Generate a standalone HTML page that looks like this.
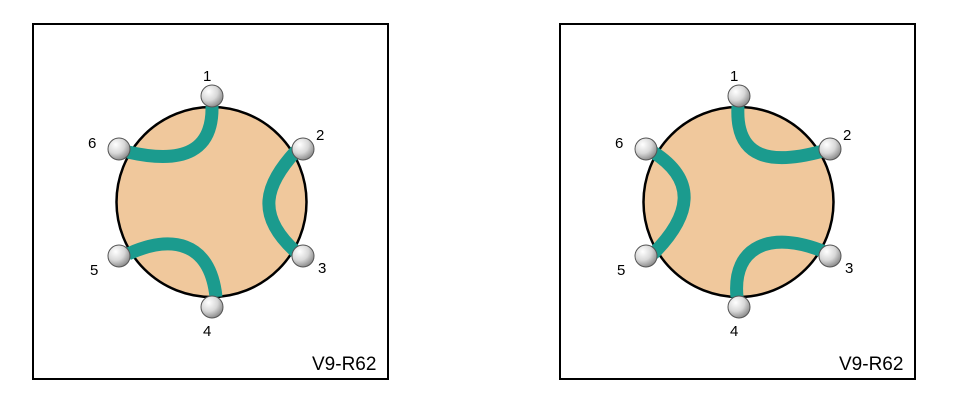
<!DOCTYPE html>
<html><head><style>
body{margin:0;background:#fff;}
svg{display:block;}
text{font-family:"Liberation Sans",sans-serif;font-size:15px;fill:#000;}
</style></head><body>
<svg width="965" height="409" viewBox="0 0 965 409">
<defs>
<radialGradient id="g" cx="0.35" cy="0.3" r="0.8">
<stop offset="0" stop-color="#ffffff"/><stop offset="0.5" stop-color="#d8d8d8"/><stop offset="1" stop-color="#7a7a7a"/>
</radialGradient>
<g id="base">
<circle cx="211.5" cy="202" r="95" fill="#f0c89c" stroke="#000" stroke-width="2.5"/>
</g>
<g id="ports">
<circle cx="212" cy="96" r="11" fill="url(#g)" stroke="#555" stroke-width="1"/>
<circle cx="303" cy="149" r="11" fill="url(#g)" stroke="#555" stroke-width="1"/>
<circle cx="303" cy="256" r="11" fill="url(#g)" stroke="#555" stroke-width="1"/>
<circle cx="212" cy="307" r="11" fill="url(#g)" stroke="#555" stroke-width="1"/>
<circle cx="119" cy="256" r="11" fill="url(#g)" stroke="#555" stroke-width="1"/>
<circle cx="119" cy="149" r="11" fill="url(#g)" stroke="#555" stroke-width="1"/>
<text x="203" y="81">1</text>
<text x="316" y="140">2</text>
<text x="318" y="273">3</text>
<text x="203" y="336">4</text>
<text x="90" y="275">5</text>
<text x="88" y="148">6</text>
</g>
</defs>

<rect x="33" y="24" width="355" height="355" fill="#fff" stroke="#000" stroke-width="2"/>
<use href="#base"/>
<g fill="none" stroke="#1b9b8e" stroke-width="13" stroke-linecap="butt">
<path d="M212,106 C213,150 185,165 128,152"/>
<path d="M296,151 C265,185 255,215 296,252"/>
<path d="M128,254 C170,235 210,240 216,297"/>
</g>
<use href="#ports"/>
<text x="312" y="370" style="font-size:19px">V9-R62</text>

<rect x="560" y="24" width="355" height="355" fill="#fff" stroke="#000" stroke-width="2"/>
<g transform="translate(527,0)">
<use href="#base"/>
<g fill="none" stroke="#1b9b8e" stroke-width="13" stroke-linecap="butt">
<path d="M211,106 C208,160 245,165 296,151"/>
<path d="M126,152 C170,180 165,215 126,254"/>
<path d="M298,252 C245,230 205,245 210,297"/>
</g>
<use href="#ports"/>
<text x="312" y="370" style="font-size:19px">V9-R62</text>
</g>
</svg>
</body></html>
